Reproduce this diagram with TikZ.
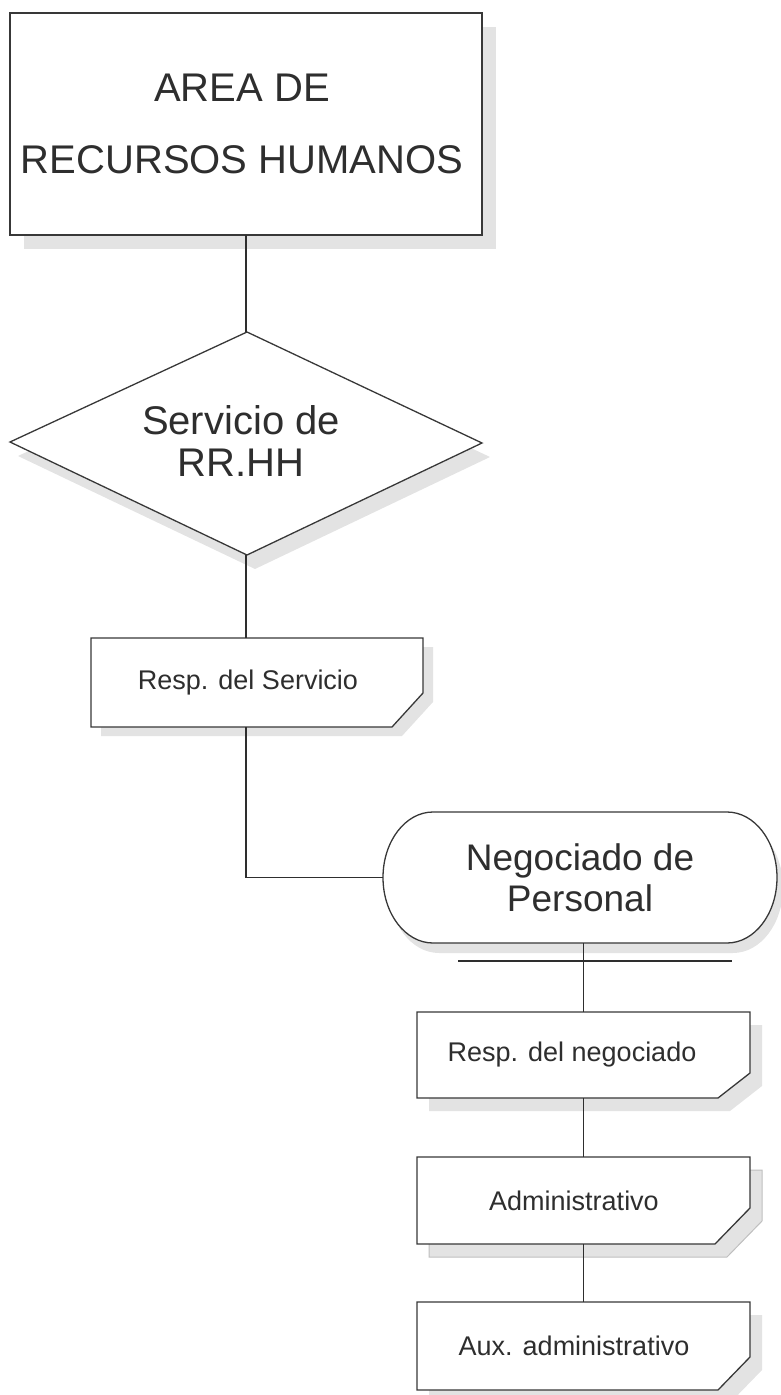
\documentclass[tikz,border=0pt]{standalone}
\usepackage{fontspec}
\setmainfont{Liberation Sans}
\begin{document}
\begin{tikzpicture}[x=1pt,y=-1pt,
  shapeline/.style={draw=black!78,line width=1.3pt,fill=white,line join=miter},
  shd/.style={fill=black!11},
  ghost/.style={draw=black!25,line width=1pt},
  conn/.style={draw=black!82,line width=1.2pt},
  anchorbox/.style={draw=none,inner sep=0pt,outer sep=0pt},
  txt/.style={text=black!82,align=center,inner sep=0pt}]
\useasboundingbox (0,0) rectangle (780,1395);

% ---------- shadows ----------
\begin{scope}[shift={(14,14)}]
  \fill[shd] (10,13) rectangle (482,235);
\end{scope}
\begin{scope}[shift={(8,14)}]
  \fill[shd] (247,332) -- (482,443) -- (247,555) -- (10,442) -- cycle;
\end{scope}
\begin{scope}[shift={(10,9)}]
  \fill[shd] (91,638) -- (423,638) -- (423,693) -- (392,727) -- (91,727) -- cycle;
\end{scope}
\begin{scope}[shift={(6,10)}]
  \fill[shd] (433,812) -- (727,812) .. controls (754.6,812) and (777,841.3) .. (777,877.5)
     .. controls (777,913.7) and (754.6,943) .. (727,943) -- (433,943)
     .. controls (405.4,943) and (383,913.7) .. (383,877.5)
     .. controls (383,841.3) and (405.4,812) .. (433,812) -- cycle;
\end{scope}
\begin{scope}[shift={(12,13)}]
  \fill[shd] (417,1012) -- (750,1012) -- (750,1073) -- (718,1098) -- (417,1098) -- cycle;
  \fill[shd] (417,1157) -- (750,1157) -- (750,1208) -- (715,1244) -- (417,1244) -- cycle;
  \path[ghost] (417,1157) -- (750,1157) -- (750,1208) -- (715,1244) -- (417,1244) -- cycle;
  \fill[shd] (417,1302) -- (750,1302) -- (750,1357) -- (718,1390) -- (417,1390) -- cycle;
\end{scope}

% ---------- shapes ----------
\path[shapeline] (10,13) rectangle (482,235);
\path[shapeline] (247,332) -- (482,443) -- (247,555) -- (10,442) -- cycle;
\path[shapeline] (91,638) -- (423,638) -- (423,693) -- (392,727) -- (91,727) -- cycle;
\path[shapeline] (433,812) -- (727,812) .. controls (754.6,812) and (777,841.3) .. (777,877.5)
     .. controls (777,913.7) and (754.6,943) .. (727,943) -- (433,943)
     .. controls (405.4,943) and (383,913.7) .. (383,877.5)
     .. controls (383,841.3) and (405.4,812) .. (433,812) -- cycle;
\path[shapeline] (417,1012) -- (750,1012) -- (750,1073) -- (718,1098) -- (417,1098) -- cycle;
\path[shapeline] (417,1157) -- (750,1157) -- (750,1208) -- (715,1244) -- (417,1244) -- cycle;
\path[shapeline] (417,1302) -- (750,1302) -- (750,1357) -- (718,1390) -- (417,1390) -- cycle;

% ---------- named anchor boxes ----------
\node[anchorbox,minimum width=472pt,minimum height=222pt] (area) at (246,124) {};
\node[anchorbox,minimum width=472pt,minimum height=223pt] (serv) at (246,443.5) {};
\node[anchorbox,minimum width=332pt,minimum height=89pt] (resp1) at (257,682.5) {};
\node[anchorbox,minimum width=394pt,minimum height=131pt] (neg) at (580,877.5) {};
\node[anchorbox,minimum width=333pt,minimum height=86pt] (resp2) at (583.5,1055) {};
\node[anchorbox,minimum width=333pt,minimum height=87pt] (admin) at (583.5,1200.5) {};
\node[anchorbox,minimum width=333pt,minimum height=88pt] (aux) at (583.5,1346) {};
\coordinate (barL) at (458,961);
\coordinate (barR) at (732,961);

% ---------- texts ----------
\node[txt,font=\fontsize{40}{72}\selectfont] (tarea) at (242,124) {AREA DE\\RECURSOS HUMANOS};
\node[txt,font=\fontsize{40}{42}\selectfont] (tserv) at (241,441) {Servicio de\\RR.HH};
\node[txt,font=\fontsize{27}{30}\selectfont] (tresp1) at (248,682.5) {Resp. del Servicio};
\node[txt,font=\fontsize{37}{41}\selectfont] (tneg) at (580,877.5) {Negociado de\\Personal};
\node[txt,font=\fontsize{27}{30}\selectfont] (tresp2) at (572,1055) {Resp. del negociado};
\node[txt,font=\fontsize{27}{30}\selectfont] (tadmin) at (574,1200.5) {Administrativo};
\node[txt,font=\fontsize{27}{30}\selectfont] (taux) at (574,1346) {Aux. administrativo};

% ---------- connectors ----------
\draw[conn] (area.south) -- (serv.north);
\draw[conn] (serv.south) -- (serv.south |- resp1.north);
\draw[conn] (serv.south |- resp1.south) |- (neg.west);
\draw[conn] (resp2.north |- neg.south) -- (resp2.north);
\draw[conn] (barL) -- (barR);
\draw[conn] (resp2.south) -- (admin.north);
\draw[conn] (admin.south) -- (aux.north);
\end{tikzpicture}
\end{document}
